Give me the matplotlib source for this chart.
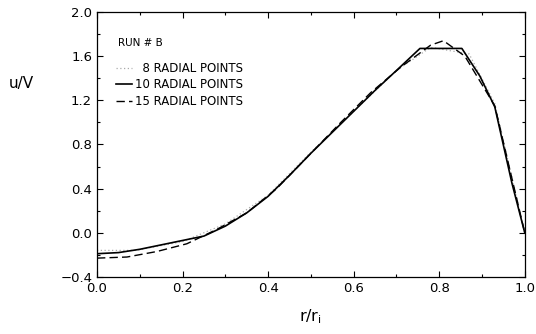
import numpy as np
import matplotlib
matplotlib.use("Agg")
import matplotlib.pyplot as plt
from matplotlib.ticker import MultipleLocator

# velocity profiles, run # B
r8 = [0.0, 0.09, 0.2, 0.3, 0.4, 0.5, 0.6, 0.7, 0.78, 0.87, 0.93, 1.0]
u8 = [-0.16, -0.16, -0.08, 0.08, 0.34, 0.73, 1.10, 1.47, 1.68, 1.62, 1.17, 0.0]

r10 = [0.0, 0.05, 0.1, 0.15, 0.2, 0.25, 0.3, 0.35, 0.4, 0.45, 0.5, 0.55, 0.6,
       0.65, 0.7, 0.755, 0.853, 0.895, 0.93, 0.97, 1.0]
u10 = [-0.19, -0.18, -0.15, -0.11, -0.07, -0.03, 0.06, 0.18, 0.33, 0.52, 0.72,
       0.91, 1.10, 1.29, 1.47, 1.67, 1.67, 1.42, 1.14, 0.45, 0.0]

r15 = [0.0, 0.07, 0.14, 0.21, 0.28, 0.35, 0.42, 0.5, 0.57, 0.64, 0.71, 0.78,
       0.81, 0.86, 0.93, 1.0]
u15 = [-0.23, -0.22, -0.17, -0.10, 0.03, 0.18, 0.40, 0.72, 1.00, 1.27, 1.50,
       1.70, 1.74, 1.60, 1.15, 0.0]

# figure space in front of "8" so the label ends line up like in the original
labels = ["\u2007" + "8 RADIAL POINTS", "10 RADIAL POINTS", "15 RADIAL POINTS"]

fig = plt.figure(figsize=(5.36, 3.34), dpi=100)
ax = fig.add_axes([0.181, 0.171, 0.798, 0.793])

l8, = ax.plot(r8, u8, color="#aaaaaa", lw=0.9, ls=(0, (1, 2)))
l10, = ax.plot(r10, u10, color="black", lw=1.2)
l15, = ax.plot(r15, u15, color="black", lw=1.0, ls=(0, (6, 3)))

ax.set_xlim(0, 1.0)
ax.set_ylim(-0.4, 2.0)
ax.xaxis.set_major_locator(MultipleLocator(0.2))
ax.xaxis.set_minor_locator(MultipleLocator(0.1))
ax.yaxis.set_major_locator(MultipleLocator(0.4))
ax.yaxis.set_minor_locator(MultipleLocator(0.2))
ax.tick_params(which="both", direction="in", top=True, right=True,
               labelsize=9.5, width=0.8)
ax.tick_params(which="major", length=4)
ax.tick_params(which="minor", length=2.5)
ax.set_xticklabels([f"{v:.1f}" for v in ax.get_xticks()])
ax.set_yticklabels([f"{v:.1f}".replace("-", "\u2212") for v in ax.get_yticks()])
for s in ax.spines.values():
    s.set_linewidth(0.9)

ax.set_xlabel("r/r$_\\mathrm{i}$", fontsize=11.5, labelpad=9)
fig.text(0.040, 0.751, "u/V", fontsize=11, ha="center", va="center")

ax.text(0.05, 0.87, "RUN # B", fontsize=7.5, transform=ax.transAxes)
leg = ax.legend([l8, l10, l15], labels, loc="upper left",
                bbox_to_anchor=(0.045, 0.812), frameon=False, fontsize=8.5,
                borderpad=0, borderaxespad=0,
                handlelength=1.3, handletextpad=0.3, labelspacing=0.3)

fig.savefig("out.png", dpi=100)
